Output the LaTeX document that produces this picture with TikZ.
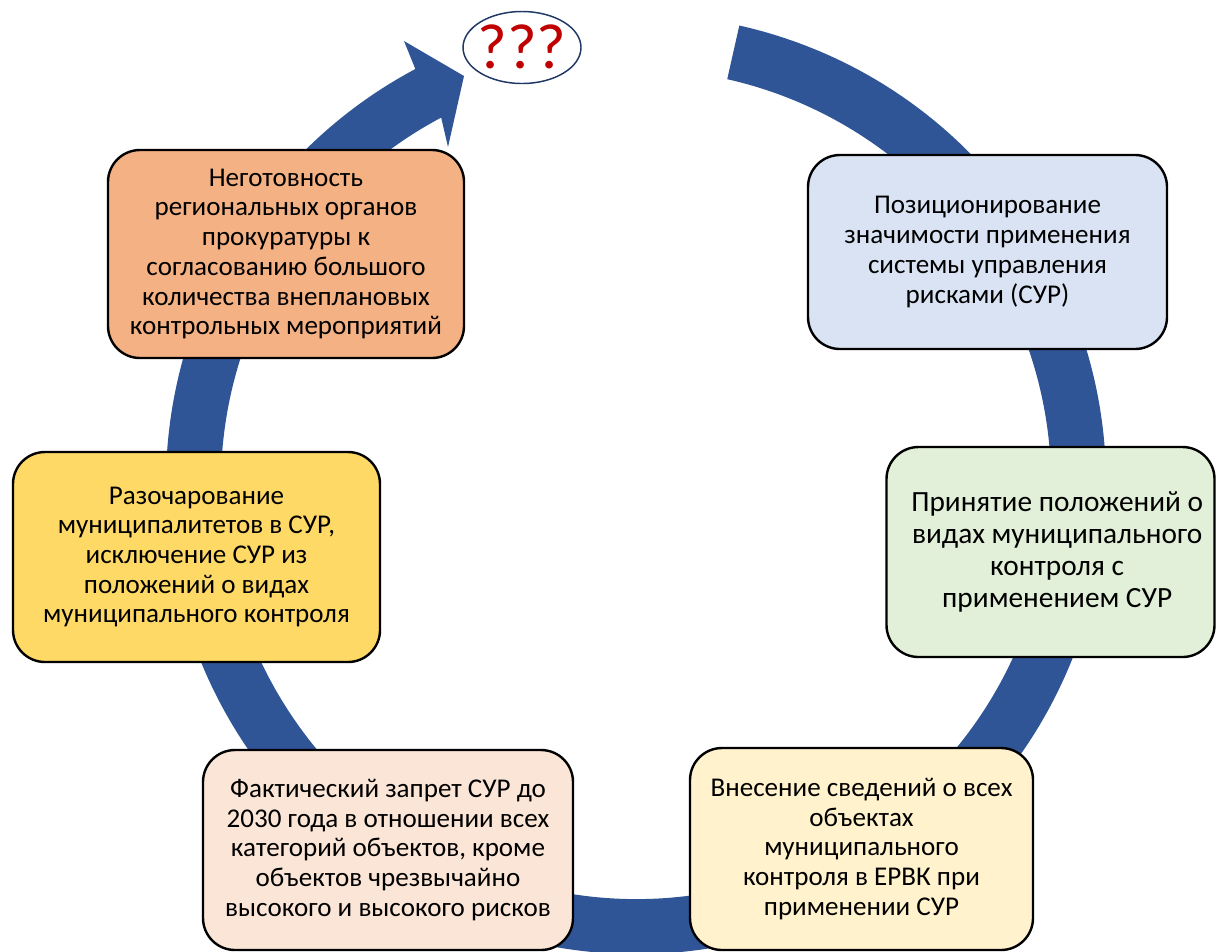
\documentclass[tikz,border=0pt]{standalone}
\usepackage{fontspec}
\setmainfont{Carlito}
\usetikzlibrary{shapes.geometric,calc}
\definecolor{ringblue}{HTML}{2F5597}
\definecolor{ellborder}{HTML}{203864}
\definecolor{qred}{HTML}{C00000}
\definecolor{cOrange}{HTML}{F4B183}
\definecolor{cBlue}{HTML}{DAE3F3}
\definecolor{cGreen}{HTML}{E2F0D9}
\definecolor{cYellow}{HTML}{FFD966}
\definecolor{cPeach}{HTML}{FBE5D6}
\definecolor{cLight}{HTML}{FFF2CC}
\tikzset{
  stepbox/.style={draw=black, line width=1.8pt, rounded corners=24pt, rectangle,
    align=center, inner sep=0pt, text=black,
    font=\fontsize{20.3pt}{22.3pt}\selectfont},
  bigbox/.style={stepbox, font=\fontsize{22pt}{24pt}\selectfont},
}
\begin{document}
\begin{tikzpicture}[x=0.75pt,y=0.75pt]
\useasboundingbox (0,0) rectangle (1216,-951);
% circular arrow, centre (636,-484)
\coordinate (C) at (636,-484);
\fill[ringblue] ($(C)+(77.3:470)$) arc[start angle=77.3, end angle=-242, radius=470]
  -- (404,-41) -- (464,-76) -- (448,-147)
  -- ($(C)+(-242:415)$) arc[start angle=-242, end angle=77.3, radius=415] -- cycle;
% question ellipse
\node[ellipse, draw=ellborder, line width=1.1pt, fill=white, minimum width=88.5pt,
  minimum height=54pt, inner sep=0pt, text=qred, font=\fontsize{48pt}{48pt}\selectfont]
  (q) at (522,-47.5) {\smash{\raisebox{-0.33em}{\makebox[0pt]{???}}}};
% boxes
\node[stepbox, fill=cOrange, minimum width=267pt, minimum height=156pt] (b1) at (286,-254)
 {Неготовность\\региональных органов\\прокуратуры к\\согласованию большого\\количества внеплановых\\контрольных мероприятий};
\node[stepbox, fill=cBlue, minimum width=269.25pt, minimum height=145.5pt] (b2) at (987.5,-252)
 {Позиционирование\\значимости применения\\системы управления\\рисками (СУР)};
\node[bigbox, fill=cGreen, minimum width=246pt, minimum height=157.5pt] (b3) at (1050.5,-552)
 {\hspace*{10pt}Принятие положений о\\\hspace*{10pt}видах муниципального\\\hspace*{10pt}контроля с\\\hspace*{10pt}применением СУР};
\node[stepbox, fill=cYellow, minimum width=275.25pt, minimum height=157.5pt] (b4) at (196.5,-557)
 {Разочарование\\муниципалитетов в СУР,\\исключение СУР из\\положений о видах\\муниципального контроля};
\node[stepbox, fill=cPeach, minimum width=277.5pt, minimum height=150pt] (b5) at (388,-850)
 {Фактический запрет СУР до\\2030 года в отношении всех\\категорий объектов, кроме\\объектов чрезвычайно\\высокого и высокого рисков};
\node[stepbox, fill=cLight, minimum width=257.25pt, minimum height=151.5pt] (b6) at (861.5,-849)
 {Внесение сведений о всех\\объектах\\муниципального\\контроля в ЕРВК при\\применении СУР};
\end{tikzpicture}
\end{document}
